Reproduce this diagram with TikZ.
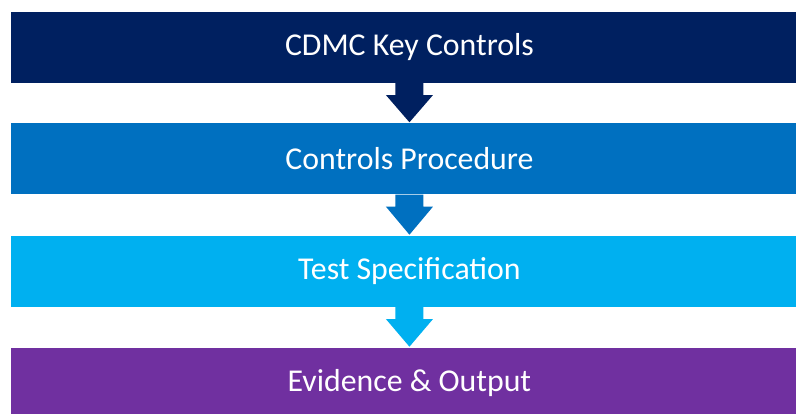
\documentclass[tikz,border=0pt]{standalone}
\usepackage{fontspec}
\setmainfont{Carlito}
\usetikzlibrary{calc}
\definecolor{navy}{HTML}{002060}
\definecolor{midblue}{HTML}{0070C0}
\definecolor{skyblue}{HTML}{00B0F0}
\definecolor{plum}{HTML}{7030A0}
\tikzset{
  stage/.style={fill=#1, draw=none, text=white, minimum width=797.5pt,
    minimum height=71pt, inner sep=0pt, anchor=north west,
    font=\fontsize{31.8}{38}\selectfont},
}
% block arrow from the bottom of one stage to the top of the next
\newcommand\stagearrow[3]{%
  \fill[#3] ($(#1.south)+(-14pt,0)$) -- ($(#1.south)+(14pt,0)$)
    -- ($(#1.south)+(14pt,-12pt)$) -- ($(#1.south)+(23.5pt,-12pt)$)
    -- ($(#2.north)+(0,1pt)$)
    -- ($(#1.south)+(-23.5pt,-12pt)$) -- ($(#1.south)+(-14pt,-12pt)$) -- cycle;}
\begin{document}
\begin{tikzpicture}[x=1pt,y=1pt]
  \useasboundingbox (0,0) rectangle (796,413);
  \fill[white] (0,0) rectangle (796,413);
  \clip (0,0) rectangle (796,413);
  \node[stage=navy]    (s1) at (10.5,401.3) {CDMC Key Controls};
  \node[stage=midblue] (s2) at (10.5,289.7) {Controls Procedure};
  \node[stage=skyblue] (s3) at (10.5,177.3) {Test Specification};
  \node[stage=plum]    (s4) at (10.5,65.3)  {Evidence \& Output};
  \stagearrow{s1}{s2}{navy}
  \stagearrow{s2}{s3}{midblue}
  \stagearrow{s3}{s4}{skyblue}
\end{tikzpicture}
\end{document}
